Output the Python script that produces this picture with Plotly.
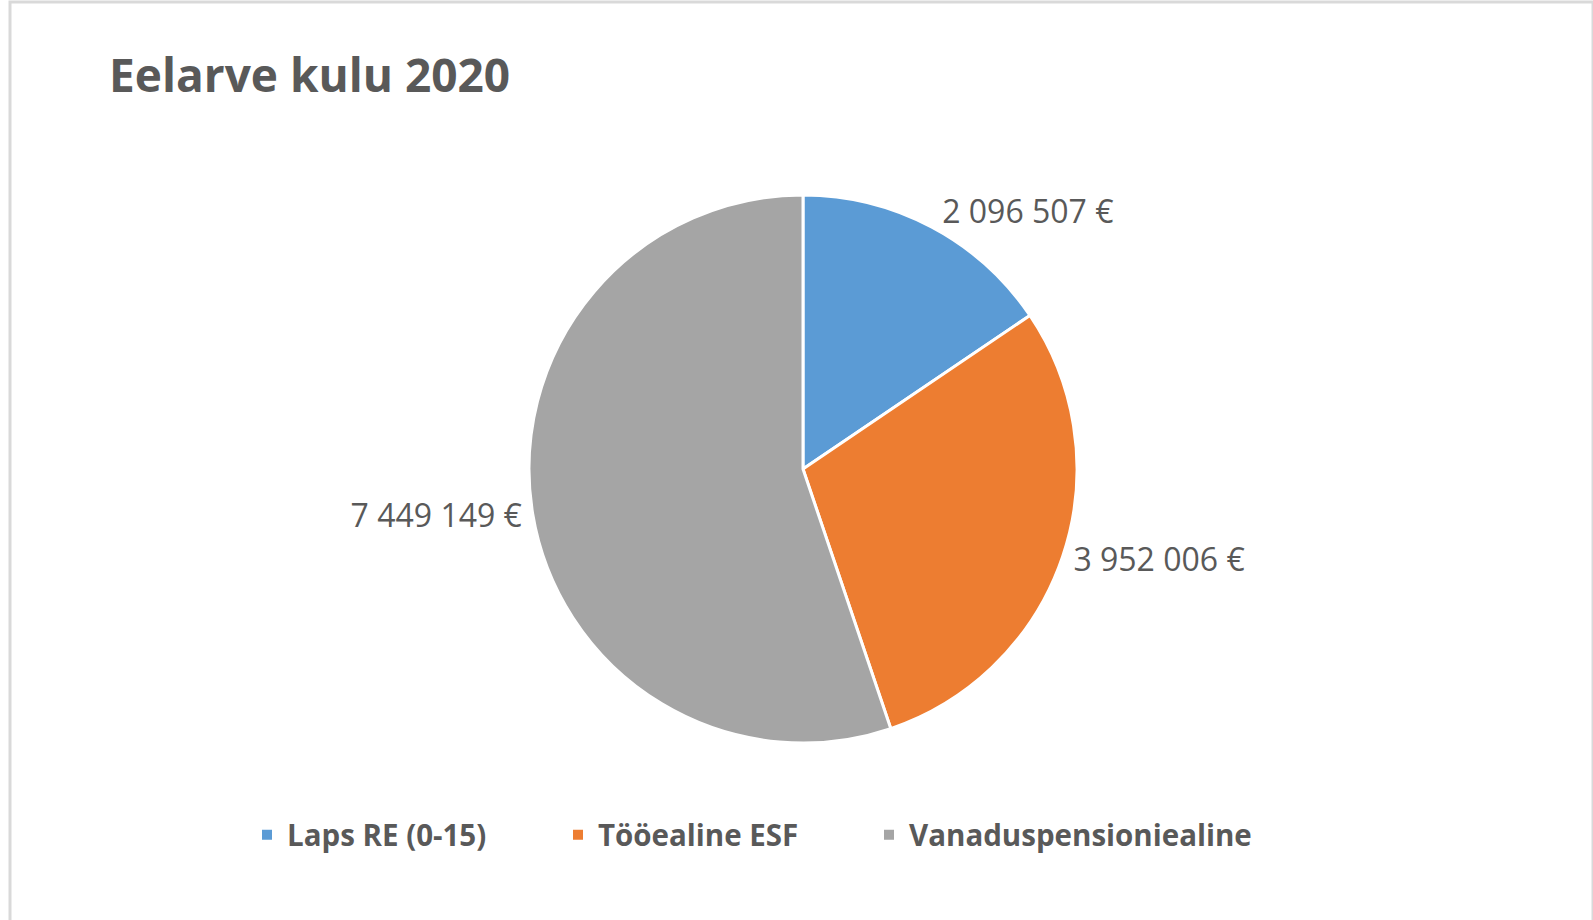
import plotly.graph_objects as go

categories = ["Laps RE (0-15)", "Tööealine ESF", "Vanaduspensioniealine"]
values = [2096507, 3952006, 7449149]
colors = ["#5B9BD5", "#ED7D31", "#A5A5A5"]

W, H = 1593, 920
FONT = "Open Sans"

fig = go.Figure(go.Pie(
    labels=categories,
    values=values,
    sort=False,
    direction="clockwise",
    rotation=0,
    marker=dict(colors=colors, line=dict(color="white", width=3)),
    texttemplate="%{value:,.0f} €",
    textposition="outside",
    textfont=dict(family=FONT, size=32, color="#595959"),
    hoverinfo="label+value+percent",
    domain=dict(x=[(803 - 274) / W, (803 + 274) / W], y=[1 - 743 / H, 1 - 195 / H]),
))

fig.update_layout(
    width=W, height=H,
    margin=dict(l=0, r=0, t=0, b=0),
    paper_bgcolor="white",
    separators=". ",
    font=dict(family=FONT, color="#595959"),
    title=dict(
        text="<b>Eelarve kulu 2020</b>",
        x=109 / W, xanchor="left",
        y=1 - 60 / H, yanchor="top",
        font=dict(family=FONT, size=46, color="#595959"),
    ),
    showlegend=True,
    legend=dict(
        orientation="h",
        x=(266 - 19) / W, xanchor="left",
        y=1 - 835 / H, yanchor="middle",
        font=dict(family=FONT, size=29.5, color="#595959", weight="bold"),
        entrywidth=266,
        itemsizing="constant",
    ),
    shapes=[dict(
        type="rect", xref="paper", yref="paper",
        x0=10 / W, x1=1.0, y0=-0.02, y1=1 - 2 / H,
        line=dict(color="#D9D9D9", width=3),
        fillcolor="rgba(0,0,0,0)",
        layer="below",
    )],
)

post = """
document.body.style.margin = '0';
document.querySelectorAll('.legend [clip-path]').forEach(function(e){ e.removeAttribute('clip-path'); });
"""

fig.write_html("out.html", post_script=post, config={"displayModeBar": False})
